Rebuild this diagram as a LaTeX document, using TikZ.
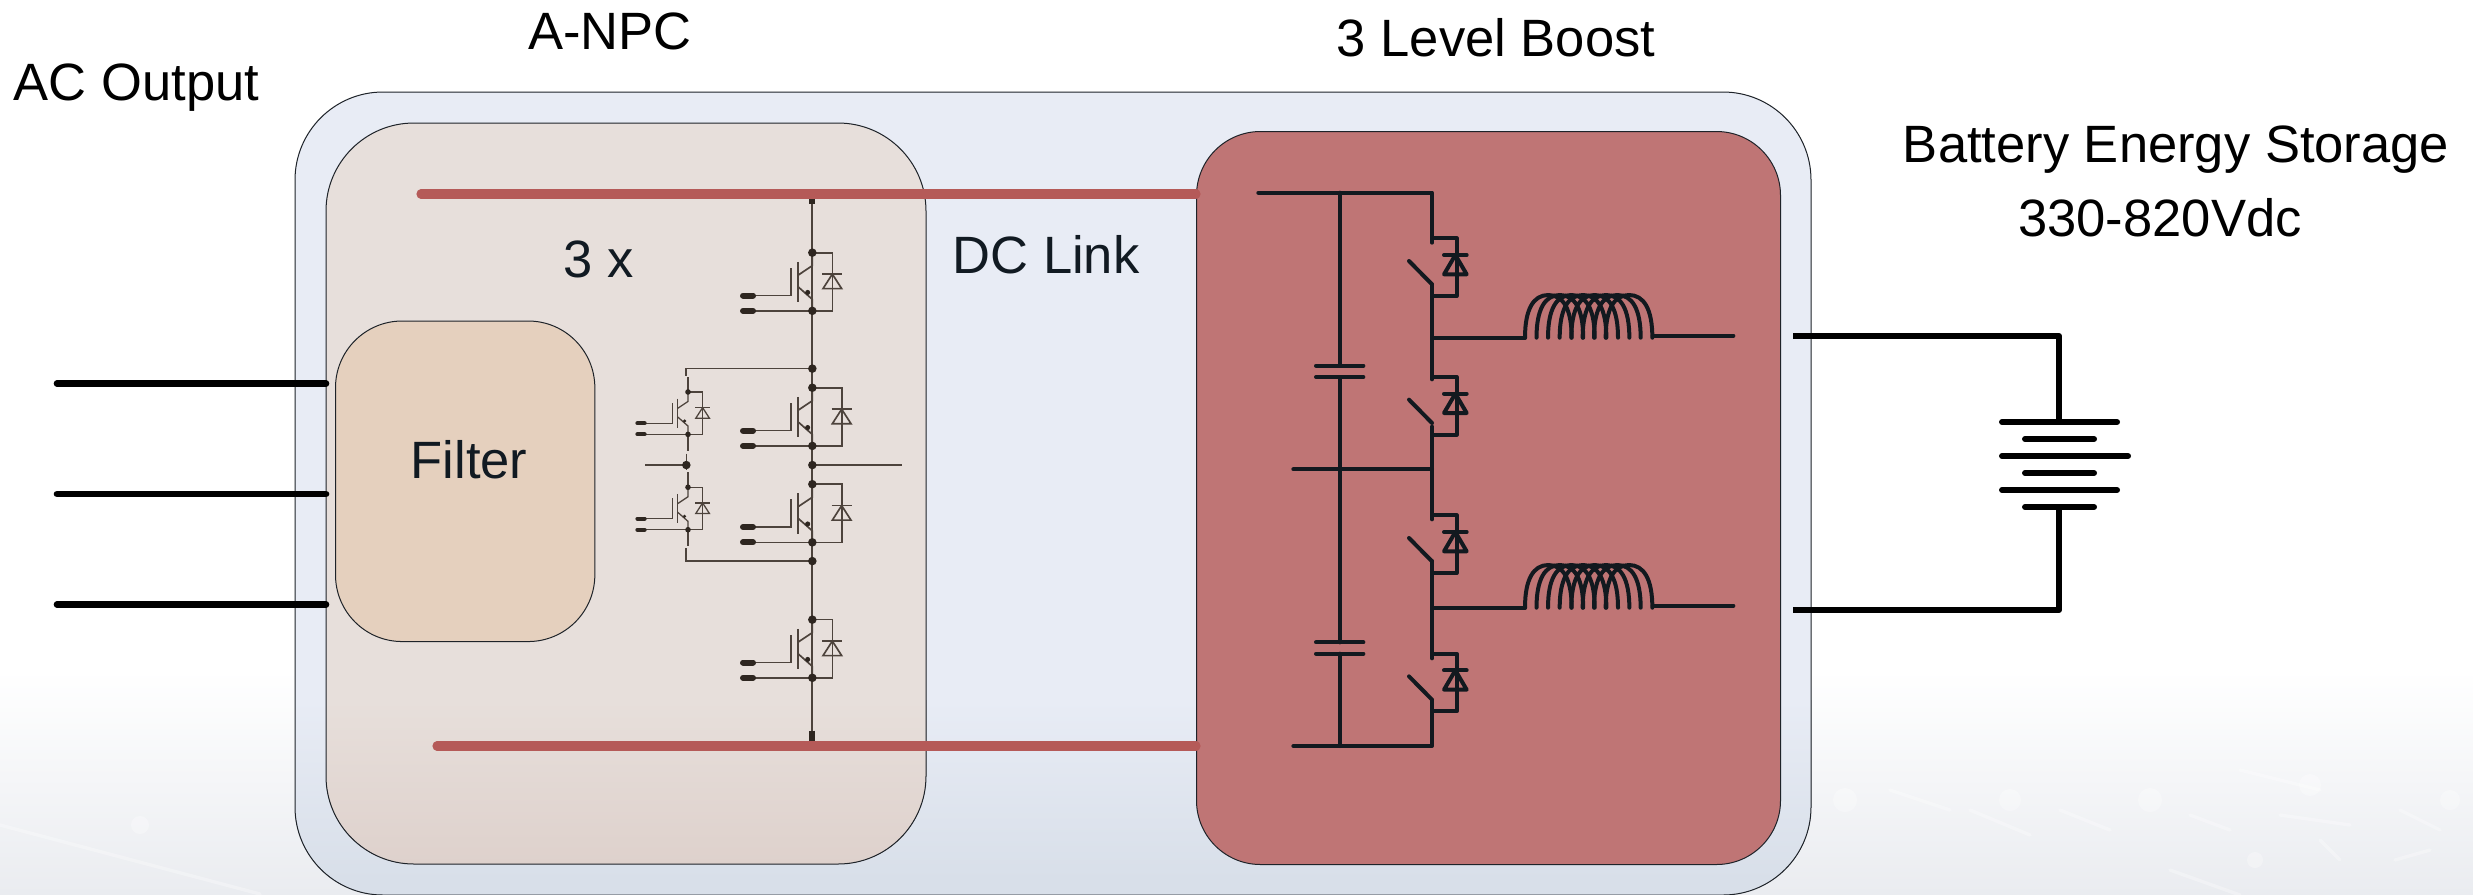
\documentclass[tikz,border=0pt]{standalone}
\usepackage{fontspec}
\setmainfont{Liberation Sans}
\definecolor{outerc}{HTML}{E8ECF5}
\definecolor{outerd}{HTML}{D8DFE9}
\definecolor{leftc}{HTML}{E7DFDB}
\definecolor{leftd}{HTML}{DED1CC}
\definecolor{rightc}{HTML}{BF7575}
\definecolor{filterc}{HTML}{E5D0BE}
\definecolor{barc}{HTML}{B55A58}
\definecolor{igc}{HTML}{4D433C}
\definecolor{igd}{HTML}{2E2620}
\definecolor{wirec}{HTML}{12191F}
\definecolor{edgec}{HTML}{1E2329}
\definecolor{groundc}{HTML}{EAECF0}
\definecolor{inkc}{HTML}{111A22}
\tikzset{
  lbl/.style={font=\fontsize{39.4}{47}\selectfont,text=black,inner sep=0pt,anchor=base},
  lblin/.style={lbl,text=inkc},
  thinw/.style={draw=igc,line width=1.25pt},
  termw/.style={draw=igd,line width=4.5pt,line cap=round},
  dotw/.style={fill=igd},
  pw/.style={draw=wirec,line width=3pt,line cap=round,line join=round},
  blk/.style={draw=black,line width=4.5pt,line cap=round,line join=round},
  blkb/.style={draw=black,line width=5pt,line cap=round},
  edgew/.style={draw=edgec,line width=.75pt},
  dcbar/.style={draw=barc,line width=6.9pt,line cap=round},
  smear/.style={white,opacity=.3}
}
% one IGBT with its diode, origin on the collector dot: #1 diode offset, #2 dot radius
\newcommand{\igcell}[2]{%
  \draw[thinw] (0,0)--(#1,0)--(#1,152)--(0,152);
  \draw[thinw] (#1,56)--(#1-28,94)--(#1+28,94)--cycle;
  \draw[thinw] (#1-30,56)--(#1+30,56);
  \draw[thinw] (-215,112)--(-65,112)--(-65,39);
  \draw[thinw] (-43,24)--(-43,129);
  \draw[thinw] (-43,59)--(0,34)--(0,0);
  \draw[thinw] (-43,89)--(0,122)--(0,152);
  \draw[thinw] (-215,152)--(0,152);
  \draw[termw] (-208,112)--(-178,112);
  \draw[termw] (-208,152)--(-178,152);
  \fill[dotw] (0,0) circle (#2);
  \fill[dotw] (0,152) circle (#2);
  \fill[dotw] (-14,104) circle (#2*.6);
}
% one switch with its diode (units: 1/3 px, origin at top of branch)
\newcommand{\swcell}{%
  \draw[pw] (0,0)--(74,0)--(74,173)--(0,173);
  \draw[pw] (36,50)--(104,50);
  \draw[pw] (70,50)--(36,108)--(104,108)--cycle;
  \draw[pw] (-69,68)--(0,138);
}
% inductor (units: 1/3 px)
\newcommand{\coil}[1]{%
  \foreach \cx in {885,919.5,954,989,1024,1058,1092,1127}{
    \draw[pw] (\cx,#1) .. controls (\cx,#1-85) and (\cx+25,#1-128) .. (\cx+70,#1-128)
      .. controls (\cx+115,#1-128) and (\cx+140,#1-85) .. (\cx+140,#1);
  }
}
\begin{document}
\begin{tikzpicture}[x=.75pt,y=-.75pt]
\useasboundingbox (0,0) rectangle (2473,894);
\clip (0,0) rectangle (2473,894);
% backdrop
\fill[white] (0,0) rectangle (2473,894);
\fill[top color=white,bottom color=groundc] (0,670) rectangle (2473,894);
% faint marks of the backdrop
\foreach \ax/\ay/\bx/\by in {1890/790/1950/810, 1970/810/2030/835, 2060/810/2110/830, 2170/870/2240/895, 2240/770/2320/790, 2280/815/2350/825, 2400/810/2440/830, 2190/815/2230/830, 2320/840/2340/860, 2395/860/2430/850, 0/825/260/894}{
  \draw[smear,line width=2.5pt,line cap=round] (\ax,\ay)--(\bx,\by);
}
\foreach \ax/\ay/\rr in {2010/800/11, 2150/800/12, 2255/860/8, 1845/800/12, 2310/785/11, 140/825/9, 2450/800/10}{
  \fill[smear] (\ax,\ay) circle (\rr);
}
% outer box
\fill[outerc,rounded corners=66] (295,92) rectangle (1811,895);
\begin{scope}
  \clip[rounded corners=66] (295,92) rectangle (1811,895);
  \fill[top color=outerc,bottom color=outerd] (0,700) rectangle (2473,880);
  \fill[outerd] (0,879) rectangle (2473,900);
\end{scope}
\draw[edgew,rounded corners=66] (295,92) rectangle (1811,895);
% A-NPC box
\fill[leftc,rounded corners=66] (326,123) rectangle (926,864);
\begin{scope}
  \clip[rounded corners=66] (326,123) rectangle (926,864);
  \fill[top color=leftc,bottom color=leftd] (0,700) rectangle (2473,864);
\end{scope}
\draw[edgew,rounded corners=66] (326,123) rectangle (926,864);
% boost box
\node[draw=edgec,line width=.75pt,fill=rightc,rounded corners=48pt,minimum width=438pt,minimum height=549.75pt,anchor=north west,inner sep=0pt] (boost) at (1196,131) {};
% AC lines
\coordinate (ac1) at (57,383.5);
\coordinate (ac2) at (57,494);
\coordinate (ac3) at (57,604.5);
\coordinate (ac1e) at (326,383.5);
\coordinate (ac2e) at (326,494);
\coordinate (ac3e) at (326,604.5);
\draw[blkb] (ac1)--(ac1e);
\draw[blkb] (ac2)--(ac2e);
\draw[blkb] (ac3)--(ac3e);
% filter
\node[draw=edgec,line width=.75pt,fill=filterc,rounded corners=50pt,minimum width=194.5pt,minimum height=240.4pt,inner sep=0pt,anchor=north west] (filter) at (335,320.5) {};
\node[lblin] (filtert) at (469,478) {Filter};
% A-NPC circuit
\begin{scope}[shift={(620,170)},x=.25pt,y=-.287pt]
  \draw[igc,line width=1.6pt] (577,60)--(577,1480);
  \draw[thinw] (577,519)--(198,519)--(198,537);
  \draw[thinw] (204,541)--(204,580);
  \draw[thinw] (204,691)--(204,735);
  \draw[thinw] (199,741)--(199,785);
  \draw[thinw] (204,790)--(204,829);
  \draw[thinw] (204,940)--(204,982);
  \draw[thinw] (198,988)--(198,1022)--(577,1022);
  \draw[thinw] (75,771)--(199,771);
  \draw[thinw] (577,771)--(845,771);
  \foreach \py in {519,771,1022}{\fill[dotw] (577,\py) circle (3.2pt);}
  \fill[dotw] (199,771) circle (3.2pt);
  \draw[igd,line width=4.5pt] (577,50)--(577,90);
  \draw[igd,line width=4.5pt] (577,1465)--(577,1496);
  \begin{scope}[shift={(577,216)}]\igcell{60}{3.2pt}\end{scope}
  \begin{scope}[shift={(577,569)}]\igcell{88}{3.2pt}\end{scope}
  \begin{scope}[shift={(577,821)}]\igcell{88}{3.2pt}\end{scope}
  \begin{scope}[shift={(577,1175)}]\igcell{60}{3.2pt}\end{scope}
  \begin{scope}[shift={(204,580)},x=.1825pt,y=-.2095pt,thinw/.append style={line width=.95pt},termw/.append style={line width=3pt}]\igcell{60}{2.1pt}\end{scope}
  \begin{scope}[shift={(204,829)},x=.1825pt,y=-.2095pt,thinw/.append style={line width=.95pt},termw/.append style={line width=3pt}]\igcell{60}{2.1pt}\end{scope}
\end{scope}
% DC bars
\coordinate (dc1a) at (421,194);
\coordinate (dc2a) at (437,746);
\draw[dcbar] (dc1a)--(dc1a-|boost.west);
\draw[dcbar] (dc2a)--(dc2a-|boost.west);
% boost circuit, upper half
\begin{scope}[shift={(1230,170)},x=.25pt,y=-.25pt]
  \draw[pw] (85,68)--(606,68)--(606,218);
  \draw[pw] (329,68)--(329,587);
  \draw[pw] (258,587)--(400,587);
  \draw[pw] (258,621)--(400,621);
  \draw[pw] (329,621)--(329,1042);
  \draw[pw] (606,343)--(606,628);
  \draw[pw] (606,503)--(885,503);
  \draw[pw] (1268,497)--(1510,497);
  \begin{scope}[shift={(606,205)}]\swcell\end{scope}
  \begin{scope}[shift={(606,621)}]\swcell\end{scope}
  \coil{503}
\end{scope}
% boost circuit, lower half
\begin{scope}[shift={(1230,450)},x=.25pt,y=-.25pt]
  \draw[pw] (190,58)--(606,58);
  \draw[pw] (606,-70)--(606,208);
  \draw[pw] (329,-10)--(329,577);
  \draw[pw] (258,577)--(400,577);
  \draw[pw] (258,611)--(400,611);
  \draw[pw] (329,611)--(329,888);
  \draw[pw] (190,888)--(606,888)--(606,750);
  \draw[pw] (606,333)--(606,625);
  \draw[pw] (606,473)--(885,473);
  \draw[pw] (1268,467)--(1510,467);
  \begin{scope}[shift={(606,196)}]\swcell\end{scope}
  \begin{scope}[shift={(606,611)}]\swcell\end{scope}
  \coil{473}
\end{scope}
% battery
\coordinate (bt1) at (1793,336);
\coordinate (bt2) at (1793,610);
\coordinate (bp1) at (2059,422);
\coordinate (bp2) at (2059,507);
\draw[blk,line cap=butt] (bt1)--(bt1-|bp1)--(bp1);
\draw[blk,line cap=butt] (bt2)--(bt2-|bp2)--(bp2);
\draw[blk] (2002,422)--(2117,422);
\draw[blk] (2025,439)--(2094,439);
\draw[blk] (2002,456)--(2128,456);
\draw[blk] (2025,473)--(2094,473);
\draw[blk] (2002,490)--(2117,490);
\draw[blk] (2025,507)--(2094,507);
% labels
\node[lbl] (acout) at (136.5,100) {AC Output};
\node[lbl] (anpc) at (610,49) {A-NPC};
\node[lbl] (lvl) at (1496,56) {3 Level Boost};
\node[lblin] (three) at (599,277) {3 x};
\node[lblin] (dclink) at (1046,273) {DC Link};
\node[lbl] (batt) at (2176,162) {Battery Energy Storage};
\node[lbl] (volt) at (2160,236) {330-820Vdc};
\end{tikzpicture}
\end{document}
